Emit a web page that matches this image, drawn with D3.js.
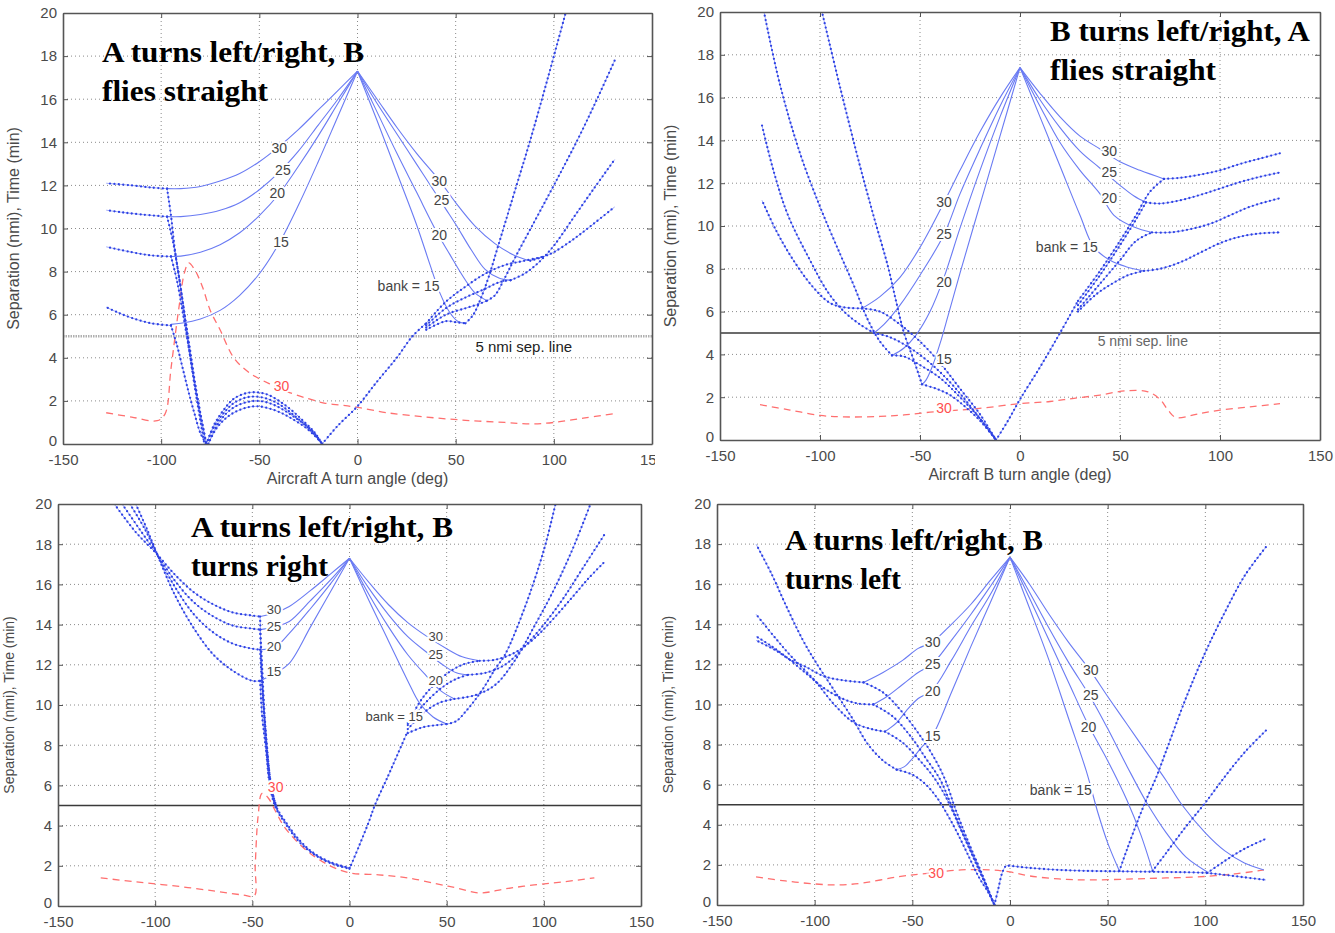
<!DOCTYPE html>
<html>
<head>
<meta charset="utf-8">
<script src="https://cdn.jsdelivr.net/npm/d3@7"></script>
<style>
body { margin: 0; background: #fff; }
svg { display: block; }
</style>
</head>
<body>
<svg id="chart" width="1335" height="933"></svg>
<script>
var xTicks = [-150, -100, -50, 0, 50, 100, 150];
var yTicks = [0, 2, 4, 6, 8, 10, 12, 14, 16, 18, 20];

// ---- panel 1: A turns left/right, B flies straight
var p1Solid = [
  [[0,17.3],[-10,16.4],[-20,15.5],[-30,14.6],[-40,13.8],[-50,13.1],[-60,12.55],[-70,12.2],[-80,11.95],[-90,11.85],[-97,11.85]],
  [[0,17.3],[-10,16.0],[-20,14.8],[-30,13.6],[-40,12.6],[-50,11.8],[-60,11.2],[-70,10.85],[-80,10.65],[-90,10.55],[-97,10.55]],
  [[0,17.3],[-10,15.8],[-20,14.3],[-30,12.9],[-40,11.6],[-50,10.6],[-60,9.8],[-70,9.25],[-80,8.9],[-90,8.72],[-95,8.7]],
  [[0,17.3],[-10,15.2],[-20,13.1],[-30,11.1],[-40,9.3],[-50,7.9],[-60,6.9],[-70,6.2],[-80,5.8],[-90,5.6],[-95,5.55]],
  [[0,17.3],[10,16.0],[20,14.7],[30,13.5],[42,12.2],[50,11.2],[60,10.1],[70,9.3],[80,8.75],[88,8.5]],
  [[0,17.3],[10,15.8],[20,14.4],[30,13.0],[40,11.6],[45,10.9],[50,10.2],[58,9.0],[65,8.1],[72,7.7],[78,7.6]],
  [[0,17.3],[10,15.4],[20,13.5],[30,11.7],[40,9.9],[47,8.8],[55,7.6],[60,7.0],[66,6.65]],
  [[0,17.3],[10,15.0],[20,12.6],[30,10.2],[37,8.3],[42,7.0],[47,6.1],[51,5.7],[55,5.6]]
];
var p1Dotted = [
  [[-97,11.85],[-105,11.9],[-115,12.0],[-128,12.1]],
  [[-97,10.55],[-110,10.65],[-120,10.75],[-128,10.85]],
  [[-95,8.7],[-105,8.75],[-115,8.9],[-128,9.15]],
  [[-95,5.5],[-105,5.6],[-115,5.85],[-122,6.1],[-128,6.35]],
  [[-97,11.85],[-95,10.6],[-93,9.0],[-90,7.2],[-87,5.2],[-84,3.3],[-81,1.6],[-78,0]],
  [[-97,10.55],[-94,9.4],[-91,7.8],[-88,6.0],[-85,4.2],[-82,2.4],[-79,0.9],[-77,0]],
  [[-95,8.7],[-92,7.6],[-89,6.1],[-86,4.5],[-83,2.9],[-80,1.4],[-77,0]],
  [[-95,5.5],[-92,4.6],[-89,3.5],[-86,2.4],[-83,1.4],[-80,0.5],[-77,0]],
  [[-77,0],[-73,0.9],[-68,1.6],[-63,2.1],[-57,2.35],[-52,2.4],[-46,2.3],[-40,2.0],[-34,1.6],[-28,1.1],[-22,0.55],[-18,0]],
  [[-77,0],[-73,0.8],[-68,1.45],[-63,1.9],[-57,2.15],[-52,2.2],[-46,2.1],[-40,1.85],[-34,1.45],[-28,1.0],[-22,0.5],[-18,0]],
  [[-76,0],[-72,0.8],[-67,1.4],[-62,1.75],[-56,1.95],[-51,2.0],[-45,1.9],[-39,1.65],[-33,1.3],[-27,0.9],[-22,0.45],[-18,0]],
  [[-76,0],[-72,0.7],[-67,1.2],[-62,1.5],[-56,1.7],[-51,1.75],[-45,1.65],[-39,1.45],[-33,1.15],[-27,0.8],[-22,0.4],[-18,0]],
  [[-18,0],[-10,0.85],[0,1.75],[10,2.9],[20,4.0],[28,5.0],[35,5.6]],
  [[35,5.6],[45,6.6],[55,7.3],[65,7.9],[75,8.3],[85,8.5],[95,8.7]],
  [[35,5.5],[45,6.3],[55,6.8],[65,7.2],[72,7.5],[78,7.6]],
  [[35,5.4],[45,6.0],[55,6.3],[62,6.5],[66,6.65]],
  [[35,5.3],[45,5.7],[50,5.65],[55,5.6]],
  [[55,5.6],[59,6.0],[63,6.8],[67,7.8],[71,9.0],[75,10.2],[80,11.7],[88,14.1],[97,17.0],[106,20]],
  [[66,6.65],[70,6.9],[75,7.7],[80,8.6],[90,10.3],[100,12.0],[112,14.1],[122,16.0],[131,17.8]],
  [[78,7.6],[85,7.9],[92,8.4],[100,9.2],[110,10.5],[120,11.8],[131,13.2]],
  [[88,8.5],[95,8.7],[100,8.9],[110,9.5],[120,10.2],[131,11.0]]
];
var p1Red = [[-128,1.45],[-115,1.25],[-102,1.08],[-98,1.4],[-95,3.5],[-91,6.3],[-88,8.0],[-86,8.4],[-83,8.1],[-79,7.3],[-75,6.2],[-70,5.3],[-63,4.0],[-55,3.3],[-45,2.8],[-35,2.4],[-25,2.1],[-17,1.9],[-8,1.8],[0,1.7],[15,1.45],[35,1.25],[55,1.1],[75,1.0],[88,0.93],[100,1.0],[115,1.2],[130,1.4]];
var p1Labels = [[-39.8,13.75,"30"],[-38,12.7,"25"],[-40.9,11.64,"20"],[-39,9.39,"15"],[41.7,12.2,"30"],[42.8,11.3,"25"],[41.7,9.7,"20"],[26,7.35,"bank = 15"]];

// ---- panel 2: B turns left/right, A flies straight
var p2Solid = [
  [[0,17.4],[-10,16.0],[-20,14.4],[-30,12.6],[-38,11.1],[-50,9.0],[-60,7.6],[-70,6.7],[-79,6.15]],
  [[0,17.4],[-10,15.6],[-20,13.6],[-30,11.5],[-38,9.6],[-50,7.7],[-60,6.3],[-68,5.4],[-73,5.0]],
  [[0,17.4],[-10,15.1],[-20,12.6],[-30,9.9],[-38,7.6],[-45,6.0],[-52,4.9],[-58,4.3],[-64,3.95]],
  [[0,17.4],[-10,14.2],[-20,11.0],[-30,7.8],[-36,5.8],[-40,4.5],[-44,3.4],[-47,2.8],[-49,2.6]],
  [[0,17.4],[10,16.2],[20,15.1],[30,14.2],[40,13.6],[50,13.0],[60,12.6],[72,12.2]],
  [[0,17.4],[10,15.9],[20,14.6],[30,13.5],[40,12.7],[50,11.9],[57,11.4],[63,11.1]],
  [[0,17.4],[10,15.6],[20,13.9],[30,12.6],[40,11.5],[47,10.5],[57,9.95],[66,9.7]],
  [[0,17.4],[10,15.1],[20,12.8],[30,10.5],[37,9.0],[45,8.4],[53,8.1],[62,7.9]]
];
var p2Dotted = [
  [[-79,6.15],[-88,6.2],[-95,6.4],[-104,7.2],[-114,8.5],[-122,9.8],[-129,11.2]],
  [[-73,5.0],[-80,5.4],[-88,6.0],[-96,6.9],[-105,8.4],[-116,10.5],[-123,12.5],[-129,14.7]],
  [[-64,3.95],[-70,4.6],[-76,5.6],[-83,7.2],[-90,8.7],[-100,10.9],[-110,13.4],[-120,16.6],[-128,20]],
  [[-49,2.6],[-53,3.7],[-58,5.0],[-62,6.5],[-66,8.1],[-73,10.4],[-80,12.8],[-90,16.5],[-99,20]],
  [[-79,6.15],[-70,6.0],[-60,5.4],[-50,4.6],[-40,3.6],[-30,2.4],[-20,1.2],[-12,0]],
  [[-73,5.0],[-65,4.8],[-55,4.3],[-45,3.6],[-35,2.7],[-25,1.6],[-12,0]],
  [[-64,3.95],[-58,3.9],[-50,3.5],[-40,2.9],[-30,2.0],[-20,1.0],[-12,0]],
  [[-49,2.6],[-42,2.4],[-35,2.1],[-28,1.6],[-20,0.9],[-12,0]],
  [[-12,0],[-6,0.9],[0,1.9],[10,3.4],[20,5.0],[29,6.5]],
  [[29,6.5],[40,7.9],[50,9.3],[58,10.5],[65,11.6],[72,12.2]],
  [[29,6.3],[40,7.7],[50,9.1],[58,10.3],[63,11.1]],
  [[29,6.1],[40,7.3],[50,8.4],[58,9.3],[66,9.7]],
  [[29,6.0],[38,6.8],[46,7.3],[54,7.7],[62,7.9]],
  [[72,12.2],[80,12.25],[90,12.4],[100,12.6],[110,12.9],[120,13.15],[130,13.4]],
  [[63,11.1],[70,11.05],[80,11.2],[90,11.45],[100,11.75],[110,12.05],[120,12.3],[130,12.5]],
  [[66,9.7],[75,9.7],[85,9.85],[95,10.1],[105,10.5],[115,10.9],[130,11.3]],
  [[62,7.9],[70,8.0],[80,8.3],[90,8.75],[100,9.2],[110,9.5],[120,9.65],[130,9.7]]
];
var p2Red = [[-130,1.65],[-115,1.4],[-100,1.15],[-88,1.08],[-70,1.1],[-58,1.17],[-45,1.3],[-30,1.4],[-18,1.5],[0,1.7],[15,1.8],[27,1.95],[40,2.1],[53,2.3],[64,2.25],[70,1.9],[74,1.4],[78,1.05],[88,1.2],[100,1.4],[115,1.55],[130,1.7]];
var p2Labels = [[-38,11.1,"30"],[-38,9.6,"25"],[-38,7.4,"20"],[-38,3.8,"15"],[44.6,13.5,"30"],[44.6,12.5,"25"],[44.6,11.3,"20"],[23.4,9.0,"bank = 15"]];

// ---- panel 3: A turns left/right, B turns right
var p3Solid = [
  [[0,17.3],[-10,16.5],[-20,15.7],[-31,14.9],[-38,14.6],[-46,14.4]],
  [[0,17.3],[-10,16.2],[-20,15.2],[-31,14.15],[-38,13.9],[-46,13.75]],
  [[0,17.3],[-10,16.0],[-20,14.8],[-31,13.56],[-38,12.9],[-46,12.75]],
  [[0,17.3],[-10,15.6],[-20,13.9],[-31,12.07],[-38,11.6],[-46,11.2]],
  [[0,17.3],[10,16.1],[20,15.0],[30,14.1],[40,13.4],[50,12.8],[58,12.4],[67,12.2]],
  [[0,17.3],[10,15.8],[20,14.5],[30,13.4],[40,12.6],[48,12.0],[55,11.6],[61,11.5]],
  [[0,17.3],[10,15.5],[20,13.9],[30,12.5],[40,11.4],[47,10.7],[54,10.3]],
  [[0,17.3],[10,15.2],[20,13.2],[30,11.2],[36,10.1],[43,9.4],[50,9.05]]
];
var p3Dotted = [
  [[-121,20],[-110,18.6],[-99,17.5],[-90,16.5],[-80,15.6],[-70,15.0],[-60,14.6],[-50,14.45],[-46,14.4]],
  [[-117,20],[-107,18.6],[-99,17.5],[-90,16.2],[-80,15.1],[-70,14.4],[-60,13.95],[-50,13.8],[-46,13.75]],
  [[-113,20],[-105,18.7],[-99,17.5],[-90,15.9],[-80,14.5],[-70,13.6],[-60,13.05],[-50,12.8],[-46,12.75]],
  [[-110,20],[-104,18.7],[-99,17.5],[-90,15.5],[-80,13.8],[-70,12.5],[-60,11.7],[-50,11.2],[-46,11.2]],
  [[-46,14.4],[-45.5,12.5],[-44.5,10.5],[-43,8.2],[-41,6.2],[-38,5.0],[-33,4.2],[-26,3.3],[-18,2.6],[-9,2.15],[0,1.9]],
  [[-46,13.75],[-45,12],[-44,10],[-42.5,8],[-40.5,6.1],[-38,5.0]],
  [[-46,12.75],[-45,11],[-43.5,9],[-42,7.3],[-40,5.8],[-37.5,4.9]],
  [[-46,11.2],[-45,9.5],[-43,7.8],[-41,6.0],[-38,4.9],[-33,4.1],[-26,3.2],[-18,2.55],[-9,2.1],[0,1.85]],
  [[0,1.85],[5,3.0],[10,4.2],[13,5.0],[20,6.5],[25,7.6],[30,8.7]],
  [[30,8.6],[38,8.9],[45,9.0],[50,9.05]],
  [[30,8.8],[38,9.6],[46,10.1],[54,10.3]],
  [[30,9.0],[38,10.0],[48,10.9],[55,11.3],[61,11.5]],
  [[30,9.1],[38,10.4],[48,11.4],[58,12.0],[67,12.2]],
  [[50,9.05],[55,9.2],[60,9.7],[65,10.3],[70,11.0],[75,11.8],[80,12.5],[90,14.8],[100,17.7],[106,20]],
  [[54,10.3],[65,10.5],[75,11.0],[85,12.2],[95,13.9],[105,15.7],[115,17.8],[124,20]],
  [[61,11.5],[70,11.6],[80,12.0],[90,12.9],[100,14.0],[110,15.3],[120,16.8],[131,18.45]],
  [[67,12.2],[75,12.25],[85,12.6],[95,13.3],[105,14.3],[115,15.4],[123,16.3],[131,17.1]]
];
var p3Red = [[-128,1.4],[-110,1.2],[-90,1.0],[-70,0.75],[-55,0.55],[-49,0.5],[-48.5,2.0],[-47,4.5],[-45,5.6],[-42,5.4],[-38,4.7],[-34,4.0],[-28,3.3],[-20,2.6],[-10,2.0],[0,1.65],[15,1.55],[30,1.4],[45,1.1],[55,0.9],[67,0.65],[80,0.85],[95,1.05],[110,1.2],[126,1.4]];
var p3Labels = [[-38.8,14.75,"30"],[-38.8,13.92,"25"],[-38.8,12.9,"20"],[-38.8,11.66,"15"],[44.4,13.4,"30"],[44.4,12.5,"25"],[44.4,11.2,"20"],[23,9.42,"bank = 15"]];

// ---- panel 4: A turns left/right, B turns left
var p4Solid = [
  [[0,17.35],[-10,16.2],[-20,15.0],[-30,14.0],[-40,13.1],[-47,12.8],[-55,12.2],[-65,11.6],[-75,11.1]],
  [[0,17.35],[-10,15.9],[-20,14.5],[-30,13.2],[-40,12.0],[-47,11.6],[-55,11.0],[-63,10.4],[-70,10.0]],
  [[0,17.35],[-10,15.5],[-20,13.9],[-30,12.2],[-40,10.7],[-47,10.3],[-53,9.7],[-58,9.1],[-64,8.65]],
  [[0,17.35],[-10,15.1],[-20,12.9],[-30,10.6],[-40,8.4],[-45,7.9],[-50,7.3],[-54,6.9],[-58,6.75]],
  [[0,17.35],[10,16.0],[20,14.5],[30,13.1],[41,11.7],[50,10.4],[60,9.0],[70,7.6],[80,6.2],[88,5.0],[100,3.6],[110,2.7],[120,2.1],[130,1.75]],
  [[0,17.35],[10,15.6],[20,13.8],[30,12.1],[41,10.4],[50,8.8],[60,6.9],[70,5.1],[80,3.6],[90,2.4],[101,1.65]],
  [[0,17.35],[10,15.3],[20,13.2],[30,11.1],[40,9.0],[50,7.2],[60,5.2],[67,3.5],[73,1.7]],
  [[0,17.35],[10,14.8],[20,12.2],[30,9.3],[39,6.7],[45,4.6],[50,3.1],[56,1.7]]
];
var p4Dotted = [
  [[-75,11.1],[-85,11.2],[-95,11.4],[-105,11.9],[-112,12.2],[-120,12.7],[-130,13.2]],
  [[-70,10.0],[-78,10.05],[-86,10.3],[-95,10.8],[-105,11.6],[-115,12.4],[-122,12.9],[-130,13.4]],
  [[-64,8.65],[-70,8.75],[-80,9.1],[-90,10.0],[-100,11.2],[-112,12.4],[-120,13.3],[-130,14.5]],
  [[-58,6.75],[-65,7.2],[-73,8.05],[-80,9.2],[-90,10.7],[-100,12.2],[-106,13.2],[-115,15.0],[-122,16.5],[-130,18.0]],
  [[-75,11.1],[-65,10.6],[-55,9.6],[-45,8.3],[-38,7.2],[-33,6.2],[-28,4.8],[-22,3.3],[-15,1.7],[-8,0]],
  [[-70,10.0],[-60,9.4],[-50,8.3],[-43,7.3],[-36,6.3],[-31,5.2],[-26,4.0],[-20,2.7],[-14,1.4],[-8,0]],
  [[-64,8.65],[-55,8.1],[-47,7.3],[-40,6.5],[-34,5.6],[-29,4.6],[-24,3.5],[-18,2.2],[-12,0.9],[-8,0]],
  [[-58,6.75],[-50,6.5],[-43,6.0],[-37,5.3],[-32,4.5],[-27,3.6],[-22,2.6],[-16,1.4],[-11,0.6],[-8,0]],
  [[-8,0],[-6,0.8],[-4,1.6],[-2,1.95],[0,1.95],[10,1.85],[25,1.75],[40,1.7],[55,1.68],[70,1.66],[85,1.64],[100,1.6],[110,1.5],[120,1.38],[131,1.25]],
  [[56,1.7],[60,2.8],[65,4.1],[70,5.3],[75,6.4],[80,7.7],[90,10.3],[100,12.6],[110,14.6],[120,16.4],[131,17.85]],
  [[73,1.7],[80,2.6],[90,3.9],[100,5.1],[110,6.4],[120,7.6],[131,8.7]],
  [[101,1.6],[110,2.2],[120,2.8],[131,3.3]]
];
var p4Red = [[-130,1.4],[-115,1.2],[-100,1.05],[-88,1.0],[-75,1.1],[-58,1.4],[-45,1.55],[-25,1.75],[-10,1.75],[0,1.65],[10,1.45],[25,1.3],[41,1.25],[63,1.3],[80,1.35],[96,1.4],[115,1.55],[130,1.75]];
var p4Labels = [[-39.6,13.1,"30"],[-39.6,12.0,"25"],[-39.6,10.65,"20"],[-39.6,8.4,"15"],[41.3,11.7,"30"],[41.3,10.46,"25"],[40.2,8.88,"20"],[26,5.73,"bank = 15"]];

var panels = [
  { n: 1, left: 63, right: 652, top: 13, bottom: 444, quad: [0, 0, 655, 492],
    solid: p1Solid, dotted: p1Dotted, red: p1Red, labels: p1Labels, labelSize: 14,
    redLabel: [-38.7, 2.7], sepLabel: [84.7, 4.49], sepStyle: "light",
    xlabel: "Aircraft A turn angle (deg)", ylabelSize: 16,
    title: [["A turns left/right, B", 102, 62, 262], ["flies straight", 102, 101, 166]] },
  { n: 2, left: 720, right: 1320, top: 12, bottom: 440, quad: [660, 0, 675, 492],
    solid: p2Solid, dotted: p2Dotted, red: p2Red, labels: p2Labels, labelSize: 14,
    redLabel: [-38, 1.48], sepLabel: [61.4, 4.6], sepStyle: "dark",
    xlabel: "Aircraft B turn angle (deg)", ylabelSize: 16,
    title: [["B turns left/right, A", 1050, 41, 260], ["flies straight", 1050, 80, 166]] },
  { n: 3, left: 58, right: 641, top: 504, bottom: 906, quad: [0, 494, 660, 439],
    solid: p3Solid, dotted: p3Dotted, red: p3Red, labels: p3Labels, labelSize: 13,
    redLabel: [-38, 5.9], sepLabel: null, sepStyle: "dark",
    xlabel: null, ylabelSize: 14,
    title: [["A turns left/right, B", 191, 537, 262], ["turns right", 191, 576, 137]] },
  { n: 4, left: 717, right: 1303, top: 504, bottom: 905, quad: [660, 494, 675, 439],
    solid: p4Solid, dotted: p4Dotted, red: p4Red, labels: p4Labels, labelSize: 14,
    redLabel: [-37.8, 1.58], sepLabel: null, sepStyle: "dark",
    xlabel: null, ylabelSize: 14,
    title: [["A turns left/right, B", 785, 550, 258], ["turns left", 785, 589, 116]] }
];

var svg = d3.select("#chart");
var defs = svg.append("defs");
var sans = "'Liberation Sans', Arial, sans-serif";

panels.forEach(function(p) {
  var x = d3.scaleLinear().domain([-150, 150]).range([p.left, p.right]);
  var y = d3.scaleLinear().domain([0, 20]).range([p.bottom, p.top]);

  defs.append("clipPath").attr("id", "quad" + p.n).append("rect")
      .attr("x", p.quad[0]).attr("y", p.quad[1]).attr("width", p.quad[2]).attr("height", p.quad[3]);
  defs.append("clipPath").attr("id", "plot" + p.n).append("rect")
      .attr("x", p.left).attr("y", p.top).attr("width", p.right - p.left).attr("height", p.bottom - p.top);

  var g = svg.append("g").attr("clip-path", "url(#quad" + p.n + ")");

  // dotted grid
  g.append("g").selectAll("line").data(xTicks.slice(1, -1)).join("line")
      .attr("x1", function(d) { return x(d); }).attr("x2", function(d) { return x(d); })
      .attr("y1", p.top).attr("y2", p.bottom)
      .attr("stroke", "#8a8a8a").attr("stroke-width", 1).attr("stroke-dasharray", "1,3");
  g.append("g").selectAll("line").data(yTicks.slice(1, -1)).join("line")
      .attr("x1", p.left).attr("x2", p.right)
      .attr("y1", function(d) { return y(d); }).attr("y2", function(d) { return y(d); })
      .attr("stroke", "#8a8a8a").attr("stroke-width", 1).attr("stroke-dasharray", "1,3");

  // 5 nmi separation line
  g.append("line")
      .attr("x1", p.left).attr("x2", p.right).attr("y1", y(5)).attr("y2", y(5))
      .attr("stroke", p.sepStyle === "light" ? "#b0b0b0" : "#3a3a3a")
      .attr("stroke-width", p.sepStyle === "light" ? 2.5 : 1.4)
      .attr("stroke-dasharray", p.sepStyle === "light" ? "1.5,1" : null);

  var plot = g.append("g").attr("clip-path", "url(#plot" + p.n + ")");
  var line = d3.line()
      .x(function(d) { return x(d[0]); })
      .y(function(d) { return y(d[1]); })
      .curve(d3.curveCatmullRom.alpha(0.5));

  // red dashed curve
  plot.append("path").datum(p.red)
      .attr("d", line).attr("fill", "none")
      .attr("stroke", "#ff6f6f").attr("stroke-width", 1.3).attr("stroke-dasharray", "7,5");

  // thin solid blue curves
  plot.selectAll(".solid").data(p.solid).join("path")
      .attr("class", "solid").attr("d", line).attr("fill", "none")
      .attr("stroke", "#6a7bf3").attr("stroke-width", 1.1);

  // dotted (marker) blue curves
  plot.selectAll(".dotbase").data(p.dotted).join("path")
      .attr("class", "dotbase").attr("d", line).attr("fill", "none")
      .attr("stroke", "#8593f5").attr("stroke-width", 0.8);
  plot.selectAll(".dots").data(p.dotted).join("path")
      .attr("class", "dots").attr("d", line).attr("fill", "none")
      .attr("stroke", "#2e42e4").attr("stroke-width", 2.3)
      .attr("stroke-linecap", "round").attr("stroke-dasharray", "0,4.4");

  // curve labels
  g.selectAll(".blab").data(p.labels).join("text")
      .attr("class", "blab")
      .attr("x", function(d) { return x(d[0]); })
      .attr("y", function(d) { return y(d[1]); })
      .attr("dy", "0.35em").attr("text-anchor", "middle")
      .attr("font-family", sans).attr("font-size", p.labelSize).attr("fill", "#444")
      .attr("stroke", "#fff").attr("stroke-width", 4).attr("paint-order", "stroke")
      .text(function(d) { return d[2]; });

  g.append("text")
      .attr("x", x(p.redLabel[0])).attr("y", y(p.redLabel[1])).attr("dy", "0.35em")
      .attr("text-anchor", "middle").attr("font-family", sans).attr("font-size", 14)
      .attr("fill", "#ff4f4f").attr("stroke", "#fff").attr("stroke-width", 4).attr("paint-order", "stroke")
      .text("30");

  if (p.sepLabel) {
    g.append("text")
        .attr("x", x(p.sepLabel[0])).attr("y", y(p.sepLabel[1])).attr("dy", "0.35em")
        .attr("text-anchor", "middle").attr("font-family", sans).attr("font-size", p.n === 1 ? 15 : 14)
        .attr("fill", p.n === 1 ? "#222" : "#666")
        .text("5 nmi sep. line");
  }

  // axes, MATLAB style ticks pointing inward on all sides
  function styleAxis(a) {
    a.select(".domain").attr("stroke", "#555").attr("stroke-width", 1.6);
    a.selectAll(".tick line").attr("stroke", "#555");
    a.selectAll("text").attr("font-family", sans).attr("font-size", 15).attr("fill", "#4a4a4a");
  }
  g.append("g").attr("transform", "translate(0," + p.bottom + ")")
      .call(d3.axisBottom(x).tickValues(xTicks).tickSize(-5).tickSizeOuter(0).tickPadding(10)
            .tickFormat(function(d) { return String(d); }))
      .call(styleAxis);
  g.append("g").attr("transform", "translate(0," + p.top + ")")
      .call(d3.axisTop(x).tickValues(xTicks).tickSize(-5).tickSizeOuter(0).tickFormat(""))
      .call(styleAxis);
  g.append("g").attr("transform", "translate(" + p.left + ",0)")
      .call(d3.axisLeft(y).tickValues(yTicks).tickSize(-5).tickSizeOuter(0).tickPadding(6)
            .tickFormat(function(d) { return String(d); }))
      .call(styleAxis)
      .selectAll(".tick text").attr("dy", function(d) { return d === 0 ? "0.1em" : "0.32em"; });
  g.append("g").attr("transform", "translate(" + p.right + ",0)")
      .call(d3.axisRight(y).tickValues(yTicks).tickSize(-5).tickSizeOuter(0).tickFormat(""))
      .call(styleAxis);

  // axis titles
  g.append("text")
      .attr("transform", "translate(" + (p.left - 44) + "," + ((p.top + p.bottom) / 2) + ") rotate(-90)")
      .attr("text-anchor", "middle").attr("font-family", sans).attr("font-size", p.ylabelSize)
      .attr("fill", "#4a4a4a")
      .text("Separation (nmi), Time (min)");
  if (p.xlabel) {
    g.append("text")
        .attr("x", (p.left + p.right) / 2).attr("y", p.bottom + 40)
        .attr("text-anchor", "middle").attr("font-family", sans).attr("font-size", 16)
        .attr("fill", "#4a4a4a")
        .text(p.xlabel);
  }

  // panel heading in heavy serif
  p.title.forEach(function(t) {
    g.append("text")
        .attr("x", t[1]).attr("y", t[2])
        .attr("font-family", "'Liberation Serif', 'DejaVu Serif', serif")
        .attr("font-weight", "bold").attr("font-size", 29).attr("fill", "#000")
        .attr("textLength", t[3]).attr("lengthAdjust", "spacingAndGlyphs")
        .text(t[0]);
  });
});
</script>
</body>
</html>
